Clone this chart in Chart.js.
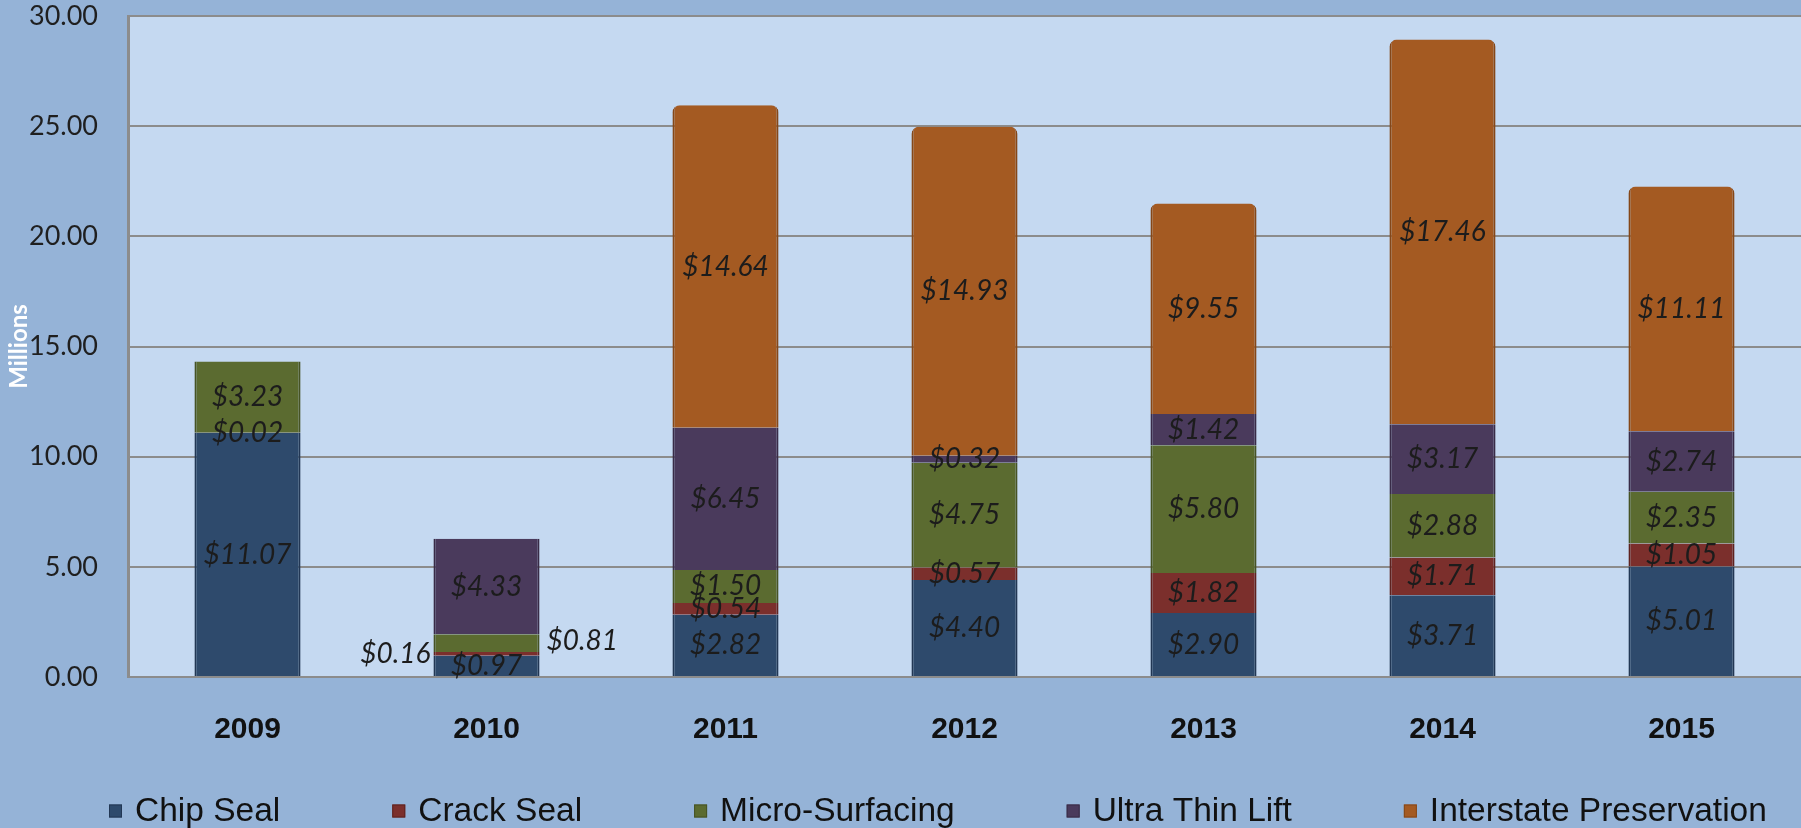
<!DOCTYPE html>
<html>
<head>
<meta charset="utf-8">
<title>Pavement preservation spending</title>
<script src="https://cdn.jsdelivr.net/npm/chart.js@4.4.1/dist/chart.umd.min.js"></script>
<style>
    html, body { margin: 0; padding: 0; background: #95b3d7; }
    #chartBox { width: 1801px; height: 828px; }
</style>
</head>
<body>
<div id="chartBox"><canvas id="spendChart" width="1801" height="828"></canvas></div>
<script>
// values in millions of dollars
const years = ['2009', '2010', '2011', '2012', '2013', '2014', '2015'];
const chipSeal = [11.07, 0.97, 2.82, 4.40, 2.90, 3.71, 5.01];
const crackSeal = [0.02, 0.16, 0.54, 0.57, 1.82, 1.71, 1.05];
const microSurfacing = [3.23, 0.81, 1.50, 4.75, 5.80, 2.88, 2.35];
const ultraThinLift = [0, 4.33, 6.45, 0.32, 1.42, 3.17, 2.74];
const interstatePreservation = [0, 0, 14.64, 14.93, 9.55, 17.46, 11.11];
const yTicks = [0, 5, 10, 15, 20, 25, 30];

// labels that sit beside the bar instead of inside it (dataset index, category index, side)
const outsideLabels = [
    { ds: 1, idx: 1, side: 'left' },
    { ds: 2, idx: 1, side: 'right' }
];

const gridGray = '#8c8c8c';

function series(label, data, color, edge, radius) {
    return {
        label: label,
        data: data,
        backgroundColor: color,
        borderColor: edge,
        borderWidth: { left: 2, right: 2, top: 0, bottom: 0 },
        borderSkipped: false,
        borderRadius: radius || 0,
        categoryPercentage: 1,
        barPercentage: 0.444
    };
}

const backgroundPlugin = {
    id: 'panelBackground',
    beforeDraw(chart) {
        const ctx = chart.ctx;
        const a = chart.chartArea;
        ctx.save();
        ctx.fillStyle = '#95b3d7';
        ctx.fillRect(0, 0, chart.width, chart.height);
        ctx.fillStyle = '#c5d9f1';
        ctx.fillRect(a.left, a.top, a.right - a.left, a.bottom - a.top);
        ctx.restore();
    }
};

const valueLabelPlugin = {
    id: 'valueLabels',
    afterDatasetsDraw(chart) {
        const ctx = chart.ctx;
        ctx.save();
        ctx.font = 'italic 28px Lato';
        ctx.fillStyle = '#1c1c1c';
        ctx.textBaseline = 'middle';
        chart.data.datasets.forEach(function (ds, d) {
            const meta = chart.getDatasetMeta(d);
            meta.data.forEach(function (bar, i) {
                const v = ds.data[i];
                if (!v) return;
                const text = '$' + v.toFixed(2);
                const cy = (bar.y + bar.base) / 2;
                const out = outsideLabels.find(o => o.ds === d && o.idx === i);
                if (out && out.side === 'left') {
                    ctx.textAlign = 'right';
                    ctx.fillText(text, bar.x - bar.width / 2 - 3, cy);
                } else if (out) {
                    ctx.textAlign = 'left';
                    ctx.fillText(text, bar.x + bar.width / 2 + 7, cy - 2);
                } else {
                    ctx.textAlign = 'center';
                    ctx.fillText(text, bar.x, cy);
                }
            });
        });
        ctx.restore();
    }
};

// legend row along the bottom edge
const legendPlugin = {
    id: 'bottomLegend',
    afterDraw(chart, args, opts) {
        const ctx = chart.ctx;
        ctx.save();
        ctx.font = opts.size + 'px "Liberation Sans", Arial, sans-serif';
        ctx.textBaseline = 'middle';
        ctx.textAlign = 'left';
        let x = opts.left;
        chart.data.datasets.forEach(function (ds) {
            ctx.fillStyle = ds.backgroundColor;
            ctx.fillRect(x, opts.centerY - opts.box / 2, opts.box, opts.box);
            ctx.strokeStyle = ds.borderColor;
            ctx.lineWidth = 1;
            ctx.strokeRect(x + 0.5, opts.centerY - opts.box / 2 + 0.5, opts.box - 1, opts.box - 1);
            x += opts.box + opts.gap;
            ctx.fillStyle = '#111111';
            ctx.fillText(ds.label, x, opts.centerY + 1);
            x += ctx.measureText(ds.label).width + opts.spacing;
        });
        ctx.restore();
    }
};

new Chart(document.getElementById('spendChart'), {
    type: 'bar',
    data: {
        labels: years,
        datasets: [
            series('Chip Seal', chipSeal, '#2e4a6c', '#223754'),
            series('Crack Seal', crackSeal, '#7b2f2c', '#5e221f'),
            series('Micro-Surfacing', microSurfacing, '#5b6b30', '#465325'),
            series('Ultra Thin Lift', ultraThinLift, '#4a3a5c', '#382b47'),
            series('Interstate Preservation', interstatePreservation, '#a45a22', '#854718',
                { topLeft: 7, topRight: 7, bottomLeft: 0, bottomRight: 0 })
        ]
    },
    options: {
        responsive: false,
        animation: false,
        layout: {
            padding: { top: 16, right: 0, bottom: 81, left: 0 }
        },
        scales: {
            x: {
                stacked: true,
                grid: { display: false },
                border: { display: true, color: gridGray, width: 2 },
                ticks: {
                    color: '#111111',
                    padding: 27,
                    font: { family: '"Liberation Sans", Arial, sans-serif', weight: 'bold', size: 30 }
                },
                afterFit: function (scale) {
                    scale.height = 70;
                }
            },
            y: {
                stacked: true,
                min: 0,
                max: 30,
                afterBuildTicks: function (scale) {
                    scale.ticks = yTicks.map(v => ({ value: v }));
                },
                grid: { color: gridGray, lineWidth: 2, drawTicks: false },
                border: { display: true, color: gridGray, width: 3 },
                ticks: {
                    color: '#1f1f1f',
                    padding: 30,
                    font: { family: 'Lato', size: 27 },
                    callback: function (value) {
                        return value.toFixed(2);
                    }
                },
                title: {
                    display: true,
                    text: 'Millions',
                    color: '#ffffff',
                    padding: { top: 5, bottom: 0 },
                    font: { family: 'Lato', weight: 'bold', size: 24 }
                },
                afterFit: function (scale) {
                    scale.width = 128;
                    // the tick padding is meant sideways only
                    scale.paddingTop = 0;
                    scale.paddingBottom = 0;
                }
            }
        },
        plugins: {
            legend: { display: false },
            tooltip: { enabled: false },
            bottomLegend: { left: 109, centerY: 811, box: 13, gap: 13, spacing: 112, size: 33.5 }
        }
    },
    plugins: [backgroundPlugin, valueLabelPlugin, legendPlugin]
});
</script>
</body>
</html>
